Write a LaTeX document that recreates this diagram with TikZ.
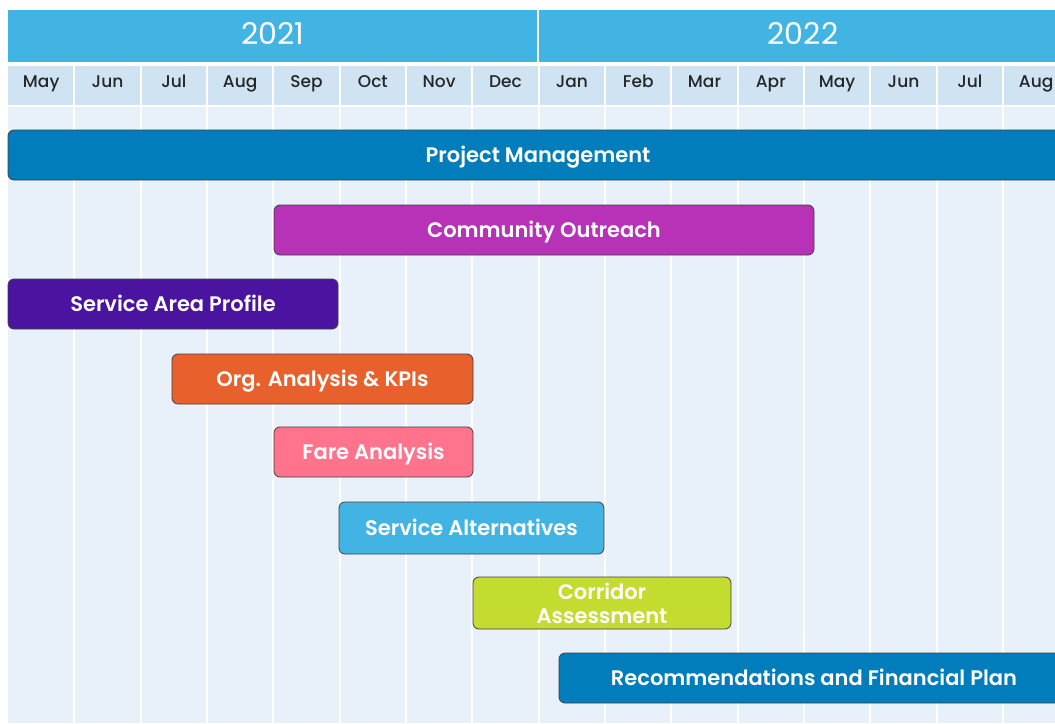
\documentclass[tikz,border=0pt]{standalone}
\usepackage{fontspec}
\setmainfont{Poppins}[BoldFont={Poppins SemiBold}]
\newfontfamily\monthfont{Poppins Medium}
\usepackage{tikz}

\definecolor{yearblue}{HTML}{42B4E3}
\definecolor{monthbg}{HTML}{CFE3F3}
\definecolor{bodybg}{HTML}{E8F0FA}
\definecolor{pmblue}{HTML}{007DBA}
\definecolor{outreach}{HTML}{B832B8}
\definecolor{profile}{HTML}{4A14A0}
\definecolor{orgorange}{HTML}{E8612C}
\definecolor{farepink}{HTML}{FF748C}
\definecolor{altblue}{HTML}{42B4E3}
\definecolor{corridor}{HTML}{C4DB2F}

\begin{document}
\begin{tikzpicture}[x=1pt, y=-1pt,
  oneline/.style = {text height=#1, text depth=0pt},
  oneline/.default = 15pt,
  month/.style = {oneline=12pt, text=black!85, font=\fontsize{17}{20}\selectfont\monthfont},
  year/.style = {oneline=21pt, text=white, font=\fontsize{30}{32}\selectfont},
  label/.style = {oneline, text=white, font=\fontsize{21}{24}\selectfont\bfseries},
  bar/.style = {draw=black!75, line width=0.8pt, rounded corners=6pt, text=white,
    minimum height=50pt, inner sep=0pt, align=center,
    font=\fontsize{21}{24}\selectfont\bfseries}]
\useasboundingbox (0,0) rectangle (1055,723);
\clip (0,0) rectangle (1055,723);

% year header
\fill[yearblue] (8,10) rectangle (1070,62);
\draw[white, line width=2pt] (538.3,10) -- (538.3,62);
\node[year] (y21) at (273,34) {2021};
\node[year] (y22) at (803,34) {2022};

% month row and body
\fill[monthbg] (8,66) rectangle (1070,105);
\fill[bodybg] (8,107) rectangle (1070,723);
\foreach \m [count=\i from 0] in {May,Jun,Jul,Aug,Sep,Oct,Nov,Dec,Jan,Feb,Mar,Apr,May,Jun,Jul,Aug} {
  \node[month] (m\i) at (8+66.33*\i+33.2,81) {\m};
  \draw[white, line width=2pt] (8+66.33*\i+66.33,66) -- (8+66.33*\i+66.33,723);
}

% tasks
\node[bar, fill=pmblue, minimum width=1080pt] (pm) at (548,155) {};
\node[label] (pmlabel) at (538,155) {Project Management};
\node[bar, oneline, fill=outreach, minimum width=540pt] (co) at (544,230) {Community Outreach};
\node[bar, oneline, fill=profile, minimum width=330pt] (sap) at (173,304) {Service Area Profile};
\node[bar, oneline, fill=orgorange, minimum width=301pt] (org) at (322.5,379) {Org. Analysis \& KPIs};
\node[bar, oneline, fill=farepink, minimum width=199pt] (fare) at (373.5,452) {Fare Analysis};
\node[bar, oneline, fill=altblue, minimum width=265pt, minimum height=52pt] (alt) at (471.5,528) {Service Alternatives};
\node[bar, fill=corridor, minimum width=258pt, minimum height=52pt] (cor) at (602,603) {Corridor\\Assessment};
\node[bar, fill=pmblue, minimum width=530pt] (rec) at (824,678) {};
\node[label] (reclabel) at (814,678) {Recommendations and Financial Plan};
\end{tikzpicture}
\end{document}
